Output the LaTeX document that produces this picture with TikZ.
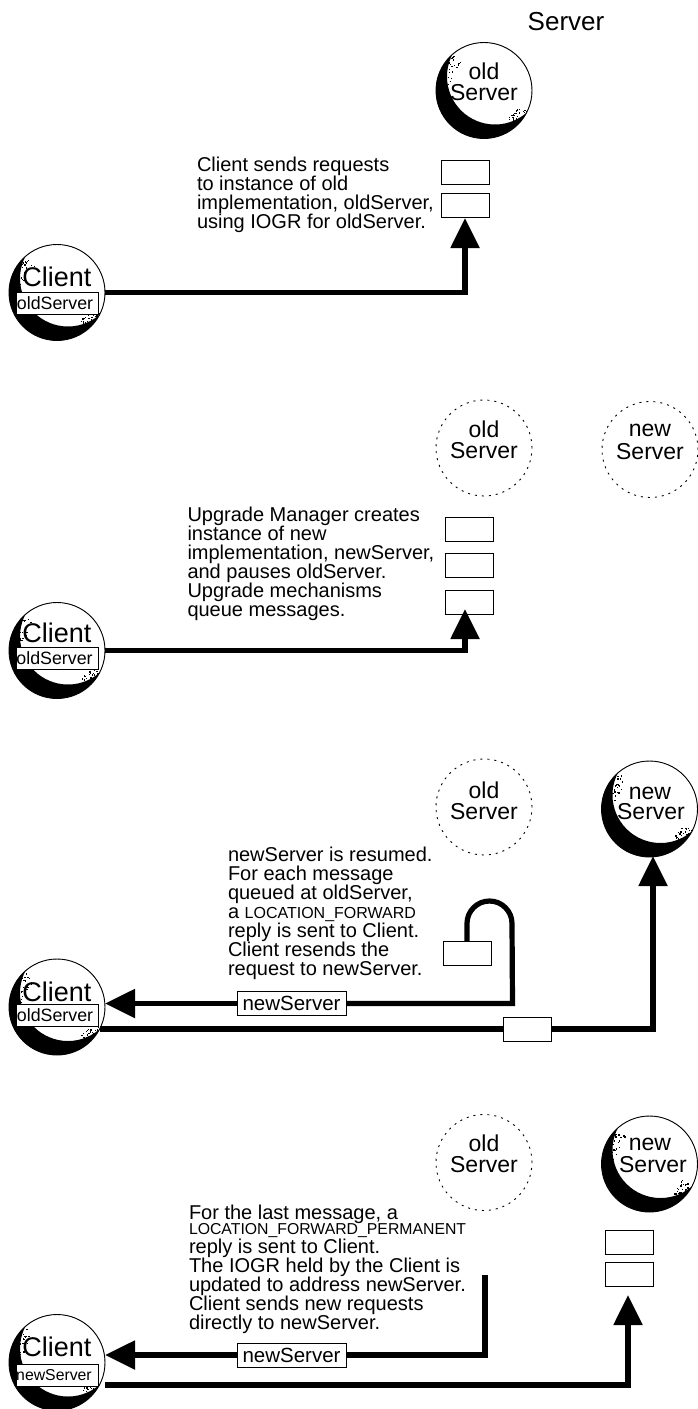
\documentclass[tikz,border=0pt]{standalone}
\usepackage{fontspec}
\setmainfont{Liberation Sans}
\usetikzlibrary{arrows.meta}
\tikzset{
  x=1pt,y=-1pt,
  disc/.style={circle,draw=black,line width=0.9pt,minimum size=#1,inner sep=0pt,outer sep=0pt},
  disc/.default=96pt,
  ghost/.style={circle,draw=black,line width=0.9pt,dash pattern=on 2pt off 5pt,minimum size=96pt,inner sep=0pt,outer sep=0pt},
  qbox/.style={rectangle,draw=black,fill=white,line width=1pt,minimum width=48pt,minimum height=24pt,inner sep=0pt,outer sep=0pt},
  refbox/.style={rectangle,draw=black,fill=white,line width=1pt,minimum width=82pt,minimum height=22pt,inner sep=0pt,outer sep=0pt,font=\fontsize{17.8}{18}\selectfont,align=left},
  msgbox/.style={rectangle,draw=black,fill=white,line width=1pt,minimum width=109pt,minimum height=24pt,inner sep=0pt,outer sep=0pt,font=\fontsize{20.5}{20.5}\selectfont},
  conn/.style={line width=5.2pt,line join=miter,draw=black},
  tip/.style={-{Triangle[length=30pt,width=28pt]}},
  note/.style={anchor=north west,inner sep=0pt,outer sep=0pt,align=left,font=\fontsize{20}{19}\selectfont},
  lbl/.style={inner sep=0pt,outer sep=0pt,font=\fontsize{23}{23}\selectfont},
  clientlbl/.style={inner sep=0pt,outer sep=0pt,font=\fontsize{27}{27}\selectfont},
  titlelbl/.style={inner sep=0pt,outer sep=0pt,font=\fontsize{26}{26}\selectfont},
}
% name, cx, cy : outlined disc with a shaded crescent at its lower left
\newcommand{\crescentdisc}[3]{%
  \node[disc,fill=white] (#1) at (#2,#3) {};
  \begin{scope}
    \clip (#2,#3) circle[radius=48];
    \fill[black,even odd rule] (#2,#3) circle[radius=48] (#2+11,#3-14) circle[radius=48];
    \foreach \k in {1,...,32}{%
      \pgfmathsetmacro\ang{130+45*rnd}%
      \pgfmathsetmacro\rad{35+12.5*rnd}%
      \fill[black] (#2,#3) ++({\rad*cos(\ang)},{-\rad*sin(\ang)}) rectangle ++(1.3,1.3);
      \pgfmathsetmacro\ang{-50+25*rnd}%
      \pgfmathsetmacro\rad{36+11*rnd}%
      \fill[black] (#2,#3) ++({\rad*cos(\ang)},{-\rad*sin(\ang)}) rectangle ++(1.3,1.3);
    }
  \end{scope}
}
\begin{document}
\begin{tikzpicture}
\useasboundingbox (0,0) rectangle (697,1409);
\pgfmathsetseed{7}

\node[titlelbl] (title) at (566,22) {Server};

% ---------- panel 1
\crescentdisc{o1}{484}{90.5}
\node[lbl] (o1a) at (484,71) {old};
\node[lbl] (o1b) at (484,93) {Server};
\node[qbox] (q11) at (465,172) {};
\node[qbox] (q12) at (465,205) {};
\node[note] (t1) at (197,157) {Client sends requests\\to instance of old\\implementation, oldServer,\\using IOGR for oldServer.};
\crescentdisc{c1}{57}{292.5}
\node[clientlbl] (c1a) at (57,277) {Client};
\node[refbox] (r1) at (57.5,303) {\hspace{-5pt}oldServer};
\coordinate (t1tip) at (465,218);
\draw[conn,tip] (c1.east) -| (t1tip);

% ---------- panel 2
\node[ghost] (o2) at (484,448) {};
\node[lbl] (o2a) at (484,429) {old};
\node[lbl] (o2b) at (484,451) {Server};
\node[ghost] (n2) at (650,449.5) {};
\node[lbl] (n2a) at (650,430) {new};
\node[lbl] (n2b) at (650,452) {Server};
\node[qbox] (q21) at (469,529) {};
\node[qbox] (q22) at (469,565) {};
\node[qbox] (q23) at (469,602) {};
\node[note] (t2) at (187.5,507) {Upgrade Manager creates\\instance of new\\implementation, newServer,\\and pauses oldServer.\\Upgrade mechanisms\\queue messages.};
\crescentdisc{c2}{57}{650.5}
\node[clientlbl] (c2a) at (57,633) {Client};
\node[refbox] (r2) at (57,658) {\hspace{-5pt}oldServer};
\coordinate (t2tip) at (465,609);
\draw[conn,tip] (c2.east) -| (t2tip);

% ---------- panel 3
\node[ghost] (o3) at (484,807) {};
\node[lbl] (o3a) at (484,790) {old};
\node[lbl] (o3b) at (484,812) {Server};
\crescentdisc{n3}{649.5}{809}
\node[lbl] (n3a) at (650,793) {new};
\node[lbl] (n3b) at (651,812) {Server};
\node[note] (t3) at (228,847) {newServer is resumed.\\For each message\\queued at oldServer,\\a {\fontsize{16}{19}\selectfont LOCATION\_FORWARD}\\reply is sent to Client.\\Client resends the\\request to newServer.};
\node[qbox] (q31) at (467,953) {};
\crescentdisc{c3}{57}{1007}
\node[clientlbl] (c3a) at (57,992) {Client};
\node[refbox] (r3) at (57.5,1015.5) {\hspace{-5pt}oldServer};
\node[msgbox] (m3) at (291.5,1003.5) {newServer};
\node[qbox] (s3) at (527.5,1029) {};
\coordinate (b3) at (512.5,1003.5);
\coordinate (c3in) at (105,1003.5);
\coordinate (c3out) at (100,1029);
\coordinate (n3tip) at (653,856);
\draw[conn] (q31.north) -- ++(0,-17.5) arc[start angle=180,end angle=360,radius=22.5] -- (b3) -- (m3.east);
\draw[conn,tip] (m3.west) -- (c3in);
\draw[conn] (c3out) -- (s3.west);
\draw[conn,tip] (s3.east) -| (n3tip);

% ---------- panel 4
\node[ghost] (o4) at (484,1162.5) {};
\node[lbl] (o4a) at (484,1143) {old};
\node[lbl] (o4b) at (484,1165) {Server};
\crescentdisc{n4}{649.5}{1164}
\node[lbl] (n4a) at (650,1144) {new};
\node[lbl] (n4b) at (653,1165) {Server};
\node[qbox] (q41) at (629,1242) {};
\node[qbox] (q42) at (629,1274.5) {};
\node[note] (t4) at (189,1205) {For the last message, a\\[-4pt]{\fontsize{15.8}{19}\selectfont LOCATION\_FORWARD\_PERMANENT}\\reply is sent to Client.\\The IOGR held by the Client is\\updated to address newServer.\\Client sends new requests\\directly to newServer.};
\crescentdisc{c4}{57}{1362.5}
\node[clientlbl] (c4a) at (57,1347) {Client};
\node[refbox] (r4) at (57,1375) {\hspace{-6pt}\fontsize{15.8}{18}\selectfont newServer};
\node[msgbox] (m4) at (291.5,1355) {newServer};
\coordinate (s4) at (485,1275);
\coordinate (b4) at (485,1355);
\coordinate (c4in) at (105,1355);
\coordinate (c4out) at (105,1385);
\coordinate (t4tip) at (628,1295);
\draw[conn] (s4) -- (b4) -- (m4.east);
\draw[conn,tip] (m4.west) -- (c4in);
\draw[conn,tip] (c4out) -| (t4tip);
\end{tikzpicture}
\end{document}
